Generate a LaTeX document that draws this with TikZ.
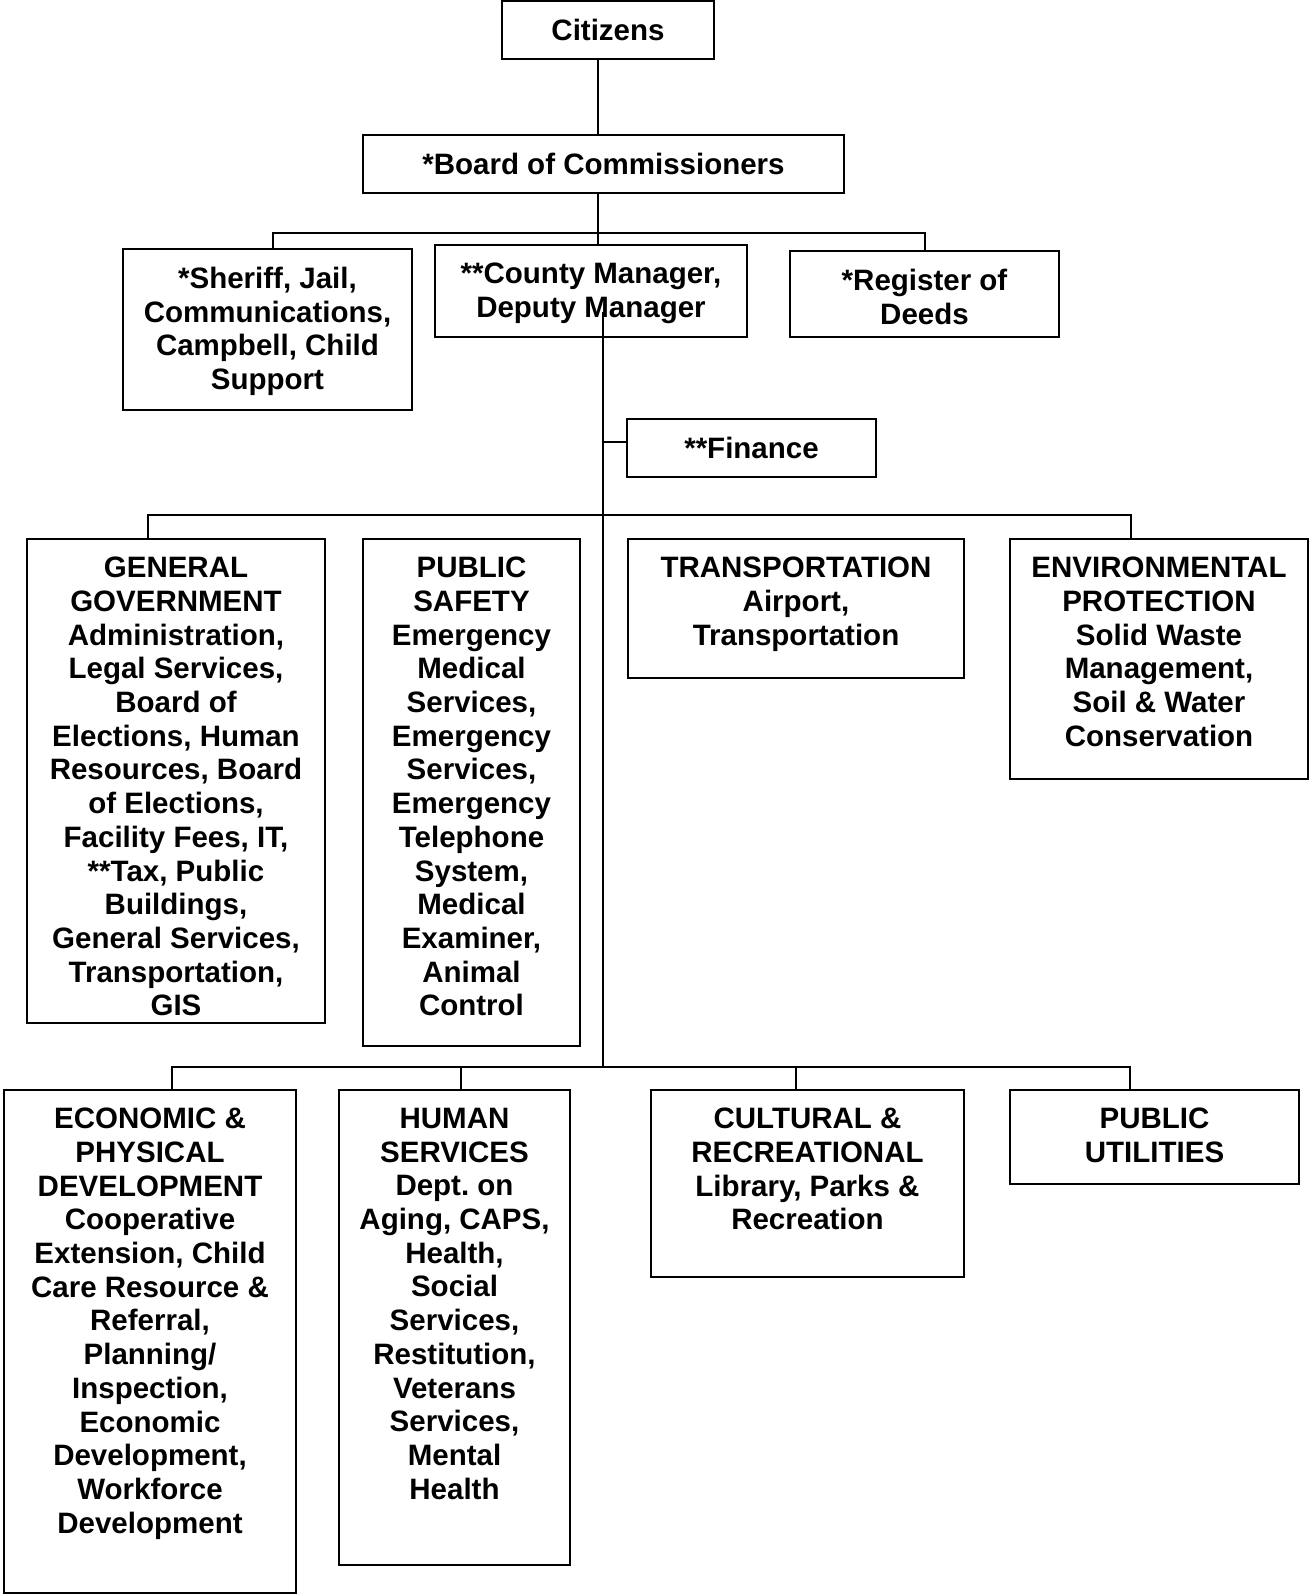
\documentclass[tikz,border=0pt]{standalone}
\usepackage{fontspec}
\setmainfont{Liberation Sans}
\usepackage{tikz}
\usetikzlibrary{positioning}

\begin{document}
\begin{tikzpicture}[x=1pt, y=-1pt,
	unit/.style 2 args={draw, line width=2.2pt, inner sep=0pt, minimum width=#1pt, minimum height=#2pt},
	lbl/.style={align=center, inner sep=0pt, font=\fontsize{29.5}{33.7}\selectfont\bfseries},
	link/.style={line width=2pt}]
	\useasboundingbox (0,0) rectangle (1309,1595);

	\node[unit={212}{58}] (cit) at (608,30) {};
	\node[unit={481}{58}] (brd) at (603.5,164) {};
	\node[unit={289}{161}] (shf) at (267.5,329.5) {};
	\node[unit={312}{92}] (mgr) at (591,291) {};
	\node[unit={269}{86}] (reg) at (924.5,294) {};
	\node[unit={249}{58}] (fin) at (751.5,448) {};
	\node[unit={298}{484}] (gen) at (176,781) {};
	\node[unit={217}{507}] (pub) at (471.5,792.5) {};
	\node[unit={336}{139}] (trn) at (796,608.5) {};
	\node[unit={298}{240}] (env) at (1159,659) {};
	\node[unit={292}{503}] (eco) at (150,1341.5) {};
	\node[unit={231}{475}] (hum) at (454.5,1327.5) {};
	\node[unit={313}{187}] (cul) at (807.5,1183.5) {};
	\node[unit={289}{94}] (utl) at (1154.5,1137) {};

	\node[lbl] (cit_t) [below=19pt of cit.north] {Citizens};
	\node[lbl] (brd_t) [below=19pt of brd.north] {*Board of Commissioners};
	\node[lbl] (shf_t) [below=19pt of shf.north] {*Sheriff, Jail,\\Communications,\\Campbell, Child\\Support};
	\node[lbl] (mgr_t) [below=19pt of mgr.north] {**County Manager,\\Deputy Manager};
	\node[lbl] (reg_t) [below=19pt of reg.north] {*Register of\\Deeds};
	\node[lbl] (fin_t) [below=19pt of fin.north] {**Finance};
	\node[lbl] (gen_t) [below=19pt of gen.north] {GENERAL\\GOVERNMENT\\Administration,\\Legal Services,\\Board of\\Elections, Human\\Resources, Board\\of Elections,\\Facility Fees, IT,\\**Tax, Public\\Buildings,\\General Services,\\Transportation,\\GIS};
	\node[lbl] (pub_t) [below=19pt of pub.north] {PUBLIC\\SAFETY\\Emergency\\Medical\\Services,\\Emergency\\Services,\\Emergency\\Telephone\\System,\\Medical\\Examiner,\\Animal\\Control};
	\node[lbl] (trn_t) [below=19pt of trn.north] {TRANSPORTATION\\Airport,\\Transportation};
	\node[lbl] (env_t) [below=19pt of env.north] {ENVIRONMENTAL\\PROTECTION\\Solid Waste\\Management,\\Soil \& Water\\Conservation};
	\node[lbl] (eco_t) [below=19pt of eco.north] {ECONOMIC \&\\PHYSICAL\\DEVELOPMENT\\Cooperative\\Extension, Child\\Care Resource \&\\Referral,\\Planning/\\Inspection,\\Economic\\Development,\\Workforce\\Development};
	\node[lbl] (hum_t) [below=19pt of hum.north] {HUMAN\\SERVICES\\Dept.\ on\\Aging, CAPS,\\Health,\\Social\\Services,\\Restitution,\\Veterans\\Services,\\Mental\\Health};
	\node[lbl] (cul_t) [below=19pt of cul.north] {CULTURAL \&\\RECREATIONAL\\Library, Parks \&\\Recreation};
	\node[lbl] (utl_t) [below=19pt of utl.north] {PUBLIC\\UTILITIES};

	\coordinate (trunk) at (598,233);
	\coordinate (spine) at (603,312);
	\coordinate (bus_a) at (603,515);
	\coordinate (bus_b) at (603,1067);

	\draw[link] (cit.south -| trunk) -- (brd.north -| trunk);
	\draw[link] (brd.south -| trunk) -- (trunk);
	\draw[link] ([xshift=5pt]shf.north) |- (trunk) -| (reg.north);
	\draw[link] (trunk) -- (trunk |- mgr.north);
	\draw[link] (spine) -- (bus_b);
	\draw[link] ([yshift=6pt]fin.west) -- ([yshift=6pt]fin.west -| spine);
	\draw[link] ([xshift=-28pt]gen.north) |- (bus_a) -| ([xshift=-28pt]env.north);
	\draw[link] ([xshift=22pt]eco.north) |- (bus_b) -| ([xshift=-25pt]utl.north);
	\draw[link] ([xshift=6pt]hum.north) -- ([xshift=6pt]hum.north |- bus_b);
	\draw[link] ([xshift=-12pt]cul.north) -- ([xshift=-12pt]cul.north |- bus_b);
\end{tikzpicture}
\end{document}
